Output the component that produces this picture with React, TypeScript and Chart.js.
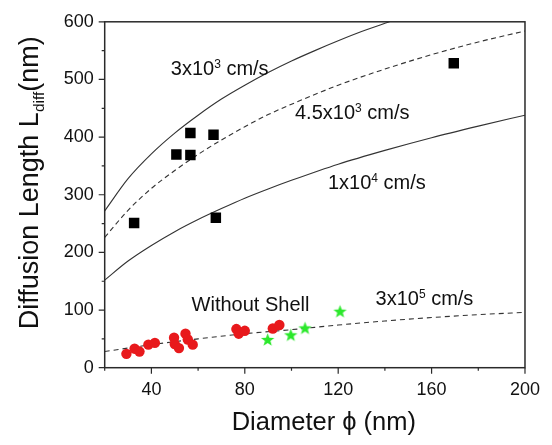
import React, { useEffect, useRef } from 'react';
import { Chart, registerables } from 'chart.js';

Chart.register(...registerables);

const FONT = '"Liberation Sans", Arial, Helvetica, sans-serif';

// axis ranges / ticks
const xRange = [20, 200];
const yRange = [0, 600];
const xLabelTicks = [40, 80, 120, 160, 200];
const yLabelTicks = [0, 100, 200, 300, 400, 500, 600];

// measured data (core-shell, black squares)
const squareD = [32.6, 50.7, 56.7, 56.7, 66.6, 67.6, 169.5];
const squareL = [251, 370, 407, 369, 404, 260, 528];

// without shell (red circles)
const circleD = [29.3, 32.8, 34.9, 38.7, 41.5, 49.7, 50.0, 51.8, 54.6, 55.6, 57.7, 76.4, 77.4, 80.0, 92.0, 94.8];
const circleL = [24, 33, 28, 40, 43, 52, 41, 34, 59, 49, 40, 67, 59, 64, 68, 74];

// green stars
const starD = [89.8, 99.7, 105.8, 120.8];
const starL = [49, 57, 69, 98];

// fitted curves
const fit3e3D = [20, 30, 40, 50, 60, 70, 80, 90, 100, 110, 120, 130, 142];
const fit3e3L = [272, 328, 371, 407, 438, 466, 490, 512, 532, 550, 567, 583, 600];

const fit45e3D = [20, 30, 40, 50, 60, 70, 80, 90, 100, 120, 140, 160, 180, 200];
const fit45e3L = [226, 273, 311, 342, 370, 395, 418, 439, 457, 490, 518, 543, 565, 584];

const fit1e4D = [20, 30, 40, 50, 60, 70, 80, 90, 100, 120, 140, 160, 180, 200];
const fit1e4L = [152, 185, 212, 236, 257, 276, 294, 310, 325, 353, 377, 399, 419, 438];

const fit3e5D = [20, 40, 60, 80, 100, 120, 140, 160, 180, 200];
const fit3e5L = [28, 40, 50, 59, 66, 74, 81, 87, 92, 96];

// curve labels
const curveLabelBase = ['3x10', '4.5x10', '1x10', '3x10'];
const curveLabelExp = ['3', '3', '4', '5'];
const curveLabelD = [48.3, 101.5, 115.6, 136];
const curveLabelL = [507, 431, 310, 108];
const shellLabel = 'Without Shell';
const shellLabelD = 57.2;
const shellLabelL = 98;

const toPts = (xs: number[], ys: number[]) => xs.map((x, i) => ({ x, y: ys[i] }));

function makeStar(): HTMLCanvasElement {
  const c = document.createElement('canvas');
  const s = 15;
  c.width = s;
  c.height = s;
  const g = c.getContext('2d')!;
  const cx = s / 2, cy = s / 2 + 0.7, R = 7.0, r = 2.9;
  g.beginPath();
  for (let i = 0; i < 10; i++) {
    const ang = -Math.PI / 2 + (i * Math.PI) / 5;
    const rad = i % 2 === 0 ? R : r;
    const px = cx + rad * Math.cos(ang);
    const py = cy + rad * Math.sin(ang);
    if (i === 0) g.moveTo(px, py); else g.lineTo(px, py);
  }
  g.closePath();
  g.fillStyle = '#2ce82c';
  g.fill();
  return c;
}

type Part = { t: string; size: number; dy: number };
function drawRich(ctx: CanvasRenderingContext2D, parts: Part[], x: number, y: number, align: 'left' | 'center' = 'left') {
  let total = 0;
  for (const p of parts) {
    ctx.font = `${p.size}px ${FONT}`;
    total += ctx.measureText(p.t).width;
  }
  let cx = align === 'center' ? x - total / 2 : x;
  ctx.textAlign = 'left';
  ctx.textBaseline = 'alphabetic';
  for (const p of parts) {
    ctx.font = `${p.size}px ${FONT}`;
    ctx.fillText(p.t, cx, y + p.dy);
    cx += ctx.measureText(p.t).width;
  }
}

const framePlugin = {
  id: 'framePlugin',
  afterDraw(chart: any) {
    const { ctx, chartArea: a, scales } = chart;
    const xs = scales.x, ys = scales.y;
    ctx.save();
    ctx.strokeStyle = '#2a2a2a';
    ctx.lineWidth = 1.5;
    ctx.strokeRect(a.left, a.top, a.right - a.left, a.bottom - a.top);
    ctx.lineWidth = 1.2;
    ctx.beginPath();
    for (let v = xRange[0]; v <= xRange[1]; v += 20) {
      const px = xs.getPixelForValue(v);
      const major = xLabelTicks.includes(v);
      ctx.moveTo(px, a.bottom);
      ctx.lineTo(px, a.bottom + (major ? 6 : 3));
    }
    for (let v = yRange[0]; v <= yRange[1]; v += 50) {
      const py = ys.getPixelForValue(v);
      const major = yLabelTicks.includes(v);
      ctx.moveTo(a.left, py);
      ctx.lineTo(a.left - (major ? 6 : 3), py);
    }
    ctx.stroke();

    ctx.fillStyle = '#111';
    // curve labels
    for (let i = 0; i < curveLabelBase.length; i++) {
      const px = xs.getPixelForValue(curveLabelD[i]);
      const py = ys.getPixelForValue(curveLabelL[i]);
      drawRich(ctx, [
        { t: curveLabelBase[i], size: 20, dy: 0 },
        { t: curveLabelExp[i], size: 12, dy: -7 },
        { t: ' cm/s', size: 20, dy: 0 },
      ], px, py);
    }
    drawRich(ctx, [{ t: shellLabel, size: 20, dy: 0 }], xs.getPixelForValue(shellLabelD), ys.getPixelForValue(shellLabelL));

    // x title
    drawRich(ctx, [
      { t: 'Diameter ', size: 25.5, dy: 0 },
      { t: '\u03D5', size: 25.5, dy: 0 },
      { t: ' (nm)', size: 25.5, dy: 0 },
    ], (a.left + a.right) / 2 + 9, a.bottom + 62, 'center');

    // y title
    ctx.save();
    ctx.translate(a.left - 67, (a.top + a.bottom) / 2 - 12);
    ctx.rotate(-Math.PI / 2);
    drawRich(ctx, [
      { t: 'Diffusion Length L', size: 27, dy: 0 },
      { t: 'diff', size: 15.5, dy: 6 },
      { t: '(nm)', size: 27, dy: 0 },
    ], 0, 0, 'center');
    ctx.restore();
    ctx.restore();
  },
};

export default function App() {
  const ref = useRef<HTMLCanvasElement | null>(null);
  useEffect(() => {
    if (!ref.current) return;
    const star = makeStar();
    const curve = (xs: number[], ys: number[], dash: number[]) => ({
      type: 'line' as const,
      data: toPts(xs, ys),
      showLine: true,
      borderColor: '#333',
      borderWidth: 1.1,
      borderDash: dash,
      pointRadius: 0,
      cubicInterpolationMode: 'monotone' as const,
      fill: false,
    });
    const chart = new Chart(ref.current, {
      type: 'scatter',
      data: {
        datasets: [
          { data: toPts(squareD, squareL), pointStyle: 'rect', pointRadius: 7.4, backgroundColor: '#000', borderWidth: 0 } as any,
          { data: toPts(circleD, circleL), pointStyle: 'circle', pointRadius: 5.2, backgroundColor: '#e8191c', borderWidth: 0 } as any,
          { data: toPts(starD, starL), pointStyle: star, pointRadius: 7, backgroundColor: '#2ce82c', borderWidth: 0 } as any,
          curve(fit3e3D, fit3e3L, []),
          curve(fit45e3D, fit45e3L, [5, 3.5]),
          curve(fit1e4D, fit1e4L, []),
          curve(fit3e5D, fit3e5L, [5, 4]),
        ],
      },
      options: {
        responsive: false,
        animation: false,
        devicePixelRatio: 1,
        layout: { padding: { left: 0, top: 20, right: 21.5, bottom: 0 } },
        plugins: { legend: { display: false }, tooltip: { enabled: false } },
        scales: {
          x: {
            type: 'linear',
            min: xRange[0],
            max: xRange[1],
            border: { display: false },
            grid: { display: false, drawTicks: false, tickLength: 0 },
            ticks: {
              stepSize: 20,
              autoSkip: false,
              maxRotation: 0,
              padding: 12,
              color: '#111',
              font: { family: FONT, size: 18 },
              callback: (v: any) => (xLabelTicks.includes(Number(v)) ? String(v) : ''),
            },
            afterFit: (s: any) => { s.height = 77.3; },
          },
          y: {
            type: 'linear',
            min: yRange[0],
            max: yRange[1],
            border: { display: false },
            grid: { display: false, drawTicks: false, tickLength: 0 },
            ticks: {
              stepSize: 100,
              autoSkip: false,
              padding: 11,
              color: '#111',
              font: { family: FONT, size: 18 },
              callback: (v: any) => String(v),
            },
            afterFit: (s: any) => { s.width = 104.7; },
          },
        },
      },
      plugins: [framePlugin],
    } as any);
    return () => chart.destroy();
  }, []);
  return (
    <div style={{ position: 'fixed', left: 0, top: 0, width: 552, height: 445, background: '#fff' }}>
      <canvas ref={ref} width={552} height={445} style={{ width: 552, height: 445, display: 'block' }} />
    </div>
  );
}
